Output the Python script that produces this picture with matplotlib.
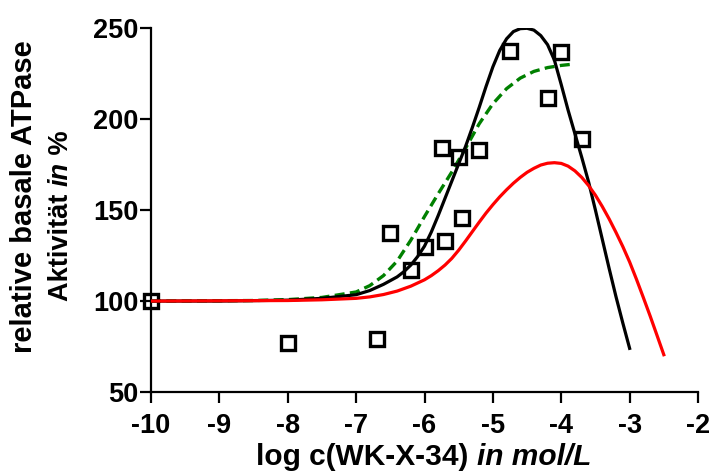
import matplotlib
matplotlib.use("Agg")
import matplotlib.pyplot as plt

plt.rcParams["font.family"] = ["Liberation Sans", "DejaVu Sans"]
plt.rcParams["font.weight"] = "bold"
plt.rcParams["axes.unicode_minus"] = False

# Measured activity (log concentration, % of basal ATPase activity)
conc_log = [-10, -8, -6.7, -6.5, -6.2, -6.0, -5.7, -5.45, -5.75, -5.5, -5.2,
            -4.75, -4.2, -4.0, -3.7]
activity = [100, 77.2, 78.9, 137.4, 117.2, 129.5, 133.3, 145.7, 184.1, 179.2,
            183.2, 237.7, 211.7, 237.1, 189.3]

# Fitted bell-shaped curve (black)
fit_black_x = [-10.0, -9.0, -8.0, -7.5, -7.0, -6.8, -6.6, -6.4, -6.3, -6.2,
               -6.1, -6.0, -5.9, -5.8, -5.7, -5.6, -5.5, -5.4, -5.3, -5.2,
               -5.1, -5.0, -4.9, -4.8, -4.7, -4.6, -4.5, -4.4, -4.3, -4.2,
               -4.1, -4.0, -3.9, -3.8, -3.7, -3.6, -3.5, -3.4, -3.3, -3.2,
               -3.1, -3.0]
fit_black_y = [100, 100, 100.5, 101.5, 103.5, 105.8, 109.2, 113.3, 116.2,
               119.8, 124.5, 130.2, 138, 147, 156.5, 166, 175.5, 185, 195.5,
               206.5, 218, 228.8, 237.8, 244.2, 248.2, 249.8, 250, 249,
               246, 241, 232.5, 219, 205, 192, 179, 165.5, 150, 134, 118,
               102.5, 88, 74]

# Second bell-shaped curve (red)
fit_red_x = [-10.0, -8.0, -7.5, -7.0, -6.8, -6.6, -6.4, -6.2, -6.0, -5.9,
             -5.8, -5.7, -5.6, -5.5, -5.4, -5.3, -5.2, -5.1, -5.0, -4.9,
             -4.8, -4.7, -4.6, -4.5, -4.4, -4.3, -4.2, -4.1, -4.0, -3.9,
             -3.8, -3.7, -3.6, -3.5, -3.4, -3.3, -3.2, -3.1, -3.0, -2.9,
             -2.8, -2.7, -2.6, -2.5]
fit_red_y = [100, 100.3, 100.7, 101.5, 102.3, 103.6, 105.5, 108.2, 111.7,
             114, 116.7, 119.8, 123.5, 128, 133, 138.2, 143.4, 148.4, 153,
             157.3, 161.2, 164.8, 168, 170.8, 173, 174.8, 175.8, 176.1,
             175.7, 174.2, 171.6, 168, 163.5, 158.2, 152, 145.2, 137.8,
             130, 121.5, 112, 102, 91.8, 81.2, 70.5]

# Sigmoidal fit (green, dashed)
fit_green_x = [-10.0, -8.5, -8.0, -7.5, -7.0, -6.8, -6.6, -6.4, -6.2, -6.0,
               -5.8, -5.6, -5.4, -5.2, -5.0, -4.8, -4.6, -4.4, -4.2, -4.0, -3.8]
fit_green_y = [100, 100.3, 100.8, 102, 105, 108.5, 114, 122, 133.5, 146.5,
               159, 171, 184, 197.5, 208.5, 216.8, 222.6, 226.3, 228.4,
               229.6, 230.4]

x_ticks = [-10, -9, -8, -7, -6, -5, -4, -3, -2]
y_ticks = [50, 100, 150, 200, 250]

W, H = 711, 475
fig = plt.figure(figsize=(W / 100, H / 100), dpi=100)
ax = fig.add_axes([151 / W, 1 - 392 / H, (698 - 151) / W, (392 - 28.3) / H])

ax.plot(fit_green_x, fit_green_y, color="#008000", lw=2.4, ls=(0, (3.0, 1.6)),
        zorder=2)
ax.plot(fit_black_x, fit_black_y, color="black", lw=2.3, zorder=3)
ax.plot(conc_log, activity, ls="none", marker="s", ms=9.5, mew=2.4,
        mfc="none", mec="black", clip_on=False, zorder=4)
ax.plot(fit_red_x, fit_red_y, color="#ff0000", lw=2.3, zorder=5)

ax.set_xlim(-10, -2)
ax.set_ylim(50, 250)
ax.set_xticks(x_ticks)
ax.set_yticks(y_ticks)
ax.set_xticklabels([str(t) for t in x_ticks])
ax.set_yticklabels([str(t) for t in y_ticks])

for side in ("top", "right"):
    ax.spines[side].set_visible(False)
for side in ("left", "bottom"):
    ax.spines[side].set_linewidth(1.6)
ax.tick_params(axis="both", width=1.6, length=8, labelsize=19.5)
ax.tick_params(axis="y", pad=1)
ax.tick_params(axis="x", pad=7)

# x axis title: bold part followed by bold-italic unit
renderer = fig.canvas.get_renderer()
part1 = "log c(WK-X-34) "
part2 = "in mol/L"
fs_x = 21.5
t1 = fig.text(0, 0, part1, fontsize=fs_x, fontweight="bold")
t2 = fig.text(0, 0, part2, fontsize=fs_x, fontweight="bold", style="italic")
w1 = t1.get_window_extent(renderer).width
w2 = t2.get_window_extent(renderer).width
x0 = 424 - (w1 + w2) / 2
base = H - 465
t1.set_position((x0 / W, base / H))
t2.set_position(((x0 + w1) / W, base / H))
t1.set_va("baseline")
t2.set_va("baseline")

# y axis title, two rotated lines
fig.text(24 / W, 1 - 197 / H, "relative basale ATPase", rotation=90,
         ha="center", va="center", fontsize=21, fontweight="bold")
fs_y2 = 19.5
s1 = "Aktivität "
s2 = "in"
s3 = " %"
u1 = fig.text(0, 0, s1, rotation=90, fontsize=fs_y2, fontweight="bold",
              ha="center", va="bottom")
u2 = fig.text(0, 0, s2, rotation=90, fontsize=fs_y2, fontweight="bold",
              style="italic", ha="center", va="bottom")
u3 = fig.text(0, 0, s3, rotation=90, fontsize=fs_y2, fontweight="bold",
              ha="center", va="bottom")
h1 = u1.get_window_extent(renderer).height
h2 = u2.get_window_extent(renderer).height
h3 = u3.get_window_extent(renderer).height
y0 = (H - 216) - (h1 + h2 + h3) / 2
xc = 61 / W
u1.set_position((xc, y0 / H))
u2.set_position((xc, (y0 + h1) / H))
u3.set_position((xc, (y0 + h1 + h2) / H))

fig.savefig("out.png", dpi=100)
